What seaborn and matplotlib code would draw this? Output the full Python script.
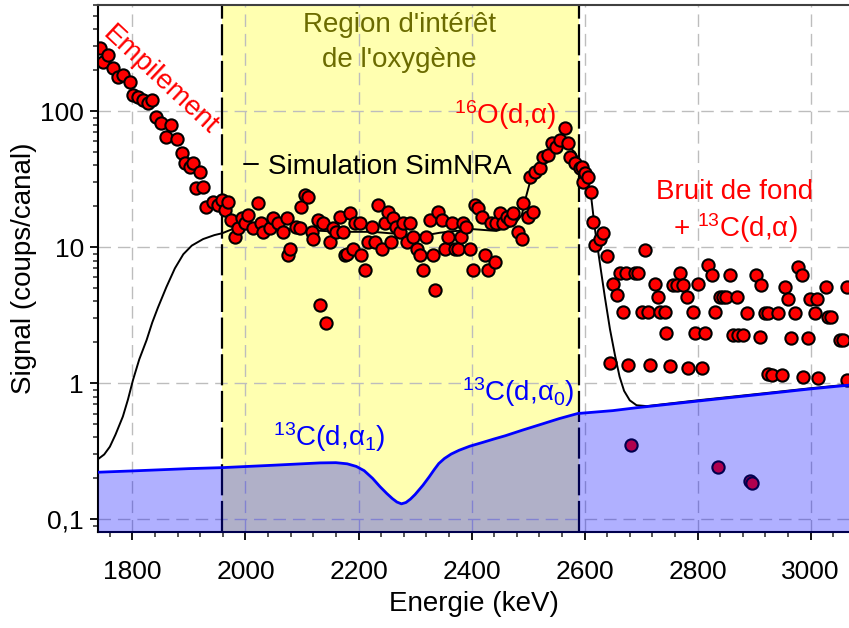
import matplotlib
matplotlib.use("Agg")
import matplotlib.pyplot as plt
from matplotlib.ticker import LogLocator, FuncFormatter, NullFormatter, MultipleLocator
import seaborn as sns

# --- measured spectrum (energy in keV, counts per channel) ---------------
pileup_energy = [1742, 1748, 1757, 1766, 1775, 1783, 1795, 1801, 1810, 1819,
                 1828, 1834, 1842, 1851, 1860, 1869, 1878, 1887, 1893, 1901,
                 1907, 1913, 1919, 1925, 1931, 1943, 1952, 1958, 1963, 1969,
                 1975]
pileup_counts = [290, 232, 259, 207, 180, 185, 165, 132, 128, 121,
                 115, 121, 91, 82, 65, 79, 63, 49, 41.5, 39.2,
                 41.5, 27.2, 36, 27.9, 19.9, 21.6, 20.5, 22.3, 18.8, 21.6,
                 15.9]

roi_energy = [1981, 1987, 1993, 1999, 2005, 2013, 2022, 2028, 2031, 2043,
              2049, 2058, 2067, 2073, 2075, 2078, 2090, 2096, 2099, 2105,
              2111, 2117, 2120, 2129, 2132, 2137, 2143, 2149, 2155, 2161,
              2167, 2173, 2176, 2179, 2185, 2191, 2193, 2202, 2205, 2211,
              2217, 2223, 2229, 2235, 2241, 2247, 2252, 2258, 2261, 2267,
              2273, 2279, 2285, 2291, 2297, 2303, 2309, 2314, 2320, 2326,
              2332, 2335, 2341, 2347, 2353, 2359, 2365, 2370, 2376, 2382,
              2385, 2391, 2397, 2403, 2406, 2412, 2418, 2424, 2429, 2435,
              2441, 2444, 2450, 2456, 2462, 2468, 2474, 2482, 2489, 2491,
              2500, 2509]
roi_counts = [12.0, 13.8, 16.3, 15.0, 17.3, 13.8, 21.1, 15.0, 13.0, 13.8,
              16.3, 15.0, 13.0, 16.3, 8.8, 9.8, 14.2, 13.8, 19.9, 24.2,
              23.6, 13.0, 11.6, 15.9, 3.77, 15.0, 2.76, 11.0, 13.8, 13.0,
              16.8, 13.0, 8.8, 9.0, 17.8, 9.8, 15.0, 15.0, 8.8, 6.8,
              11.0, 14.2, 11.0, 20.5, 9.8, 15.0, 18.3, 11.0, 16.3, 14.2,
              13.0, 15.0, 11.0, 15.0, 12.0, 9.8, 8.8, 6.8, 12.0, 15.9,
              8.8, 4.85, 18.3, 15.9, 9.8, 12.0, 15.0, 9.8, 9.8, 12.0,
              15.0, 14.2, 9.8, 6.8, 20.5, 19.4, 16.8, 8.8, 6.8, 15.0,
              7.8, 15.0, 17.8, 15.0, 16.8, 15.9, 17.8, 13.0, 11.6, 21.1,
              16.8, 18.3]

peak_energy = [2503, 2512, 2521, 2527, 2536, 2542, 2550, 2556, 2565, 2571,
               2574, 2583, 2592, 2595, 2598, 2601, 2606, 2612, 2615, 2618,
               2627, 2633, 2639]
peak_counts = [33, 36, 38.1, 46.4, 47.7, 58.2, 55, 61.5, 75, 58.2,
               46.4, 41.5, 38.1, 39.2, 30.4, 35, 33, 25.6, 15.4, 10.4,
               11.6, 12.7, 8.6]

background_energy = [2645, 2651, 2657, 2663, 2668, 2674, 2677, 2683, 2689, 2695,
                     2701, 2707, 2713, 2716, 2724, 2730, 2733, 2742, 2745, 2751,
                     2757, 2763, 2769, 2775, 2781, 2783, 2792, 2795, 2801, 2807,
                     2813, 2818, 2825, 2831, 2836, 2840, 2845, 2851, 2857, 2863,
                     2869, 2872, 2881, 2887, 2893, 2897, 2904, 2910, 2913, 2919,
                     2925, 2925, 2931, 2943, 2949, 2955, 2960, 2966, 2972, 2978,
                     2984, 2987, 2996, 2999, 3008, 3011, 3014, 3028, 3031, 3037,
                     3052, 3058, 3064, 3064]
background_counts = [1.40, 5.4, 4.47, 6.45, 3.36, 6.45, 1.36, 0.352, 6.45, 6.45,
                     3.36, 9.6, 3.36, 1.36, 5.4, 4.34, 3.36, 3.36, 2.33, 1.33,
                     5.3, 5.3, 6.45, 5.3, 4.34, 1.29, 3.36, 2.33, 5.4, 1.29,
                     2.33, 7.4, 6.3, 3.36, 0.241, 4.34, 4.34, 4.34, 6.3, 2.27,
                     4.34, 2.27, 2.27, 3.27, 0.191, 0.186, 6.3, 2.2, 5.3, 3.27,
                     3.27, 1.18, 1.15, 3.27, 1.15, 5.1, 4.2, 2.14, 3.27, 7.2,
                     6.3, 1.12, 2.14, 4.2, 3.27, 4.2, 1.09, 5.1, 3.09, 3.09,
                     2.08, 2.08, 5.1, 1.06]

# --- SimNRA simulation -----------------------------------------------------
sim_energy = [1739, 1750, 1760, 1770, 1783, 1792, 1801, 1812, 1825, 1835,
              1845, 1860, 1875, 1890, 1905, 1925, 1945, 1959, 1984, 2050,
              2137, 2167, 2225, 2285, 2320, 2344, 2403, 2444, 2468, 2480,
              2489, 2497, 2506, 2521, 2532, 2545, 2558, 2570, 2583, 2595,
              2603, 2612, 2618, 2627, 2636, 2645, 2654, 2662, 2670, 2680,
              2692, 2710, 2800, 2900, 3000, 3068]
sim_counts = [0.277, 0.30, 0.342, 0.42, 0.57, 0.76, 1.06, 1.5, 2.08, 2.8,
              3.6, 5.1, 7.0, 8.9, 10.3, 11.5, 12.3, 12.7, 14.0, 13.8,
              13.2, 13.0, 13.0, 12.4, 12.3, 12.8, 13.6, 13.2, 14.2, 15.5,
              17.3, 24, 33, 44, 51, 56, 57.5, 56, 50, 40,
              33, 23, 14, 7.7, 4.3, 2.5, 1.6, 1.12, 0.88, 0.75,
              0.69, 0.68, 0.75, 0.83, 0.92, 0.98]

# --- 13C(d,alpha) contribution ---------------------------------------------
c13_energy = [1739, 1800, 1900, 1959, 2050, 2132, 2160, 2180, 2196, 2210,
              2225, 2238, 2250, 2260, 2268, 2276, 2284, 2292, 2300, 2314,
              2325, 2334, 2342, 2352, 2364, 2378, 2397, 2420, 2440, 2460,
              2491, 2520, 2555, 2588, 2650, 2690, 2800, 2900, 3000, 3068]
c13_counts = [0.222, 0.227, 0.236, 0.240, 0.250, 0.260, 0.261, 0.256, 0.245, 0.228,
              0.200, 0.174, 0.155, 0.142, 0.134, 0.130, 0.133, 0.141, 0.152, 0.178,
              0.205, 0.232, 0.257, 0.280, 0.302, 0.322, 0.345, 0.368, 0.390, 0.412,
              0.454, 0.495, 0.550, 0.600, 0.630, 0.660, 0.740, 0.820, 0.910, 0.970]

roi_bounds = [1959, 2591]
x_range = [1739, 3068]
y_range = [0.0807, 605]

sns.set_theme(style="white")
plt.rcParams["font.family"] = ["Liberation Sans", "DejaVu Sans"]
plt.rcParams["mathtext.fontset"] = "custom"
plt.rcParams["mathtext.rm"] = "Liberation Sans"
plt.rcParams["mathtext.it"] = "Liberation Sans:italic"
plt.rcParams["mathtext.default"] = "regular"
plt.rcParams["text.color"] = "black"
plt.rcParams["axes.labelcolor"] = "black"

fig = plt.figure(figsize=(8.49, 6.28), dpi=100)
ax = fig.add_axes([98 / 849, 96 / 628, 751 / 849, 527 / 628])

# region of interest for oxygen
ax.axvspan(roi_bounds[0], roi_bounds[1], color="#FFFFB0", lw=0, zorder=0.2)
for xv in roi_bounds:
    ax.axvline(xv, color="black", lw=1.6, ls=(0, (14, 2.5)), zorder=1.8)

meas_energy = pileup_energy + roi_energy + peak_energy + background_energy
meas_counts = pileup_counts + roi_counts + peak_counts + background_counts

sns.lineplot(x=sim_energy, y=sim_counts, color="black", lw=1.4, sort=False,
             estimator=None, ax=ax, zorder=2, label="Simulation SimNRA")
sns.scatterplot(x=meas_energy, y=meas_counts, s=78, color="#FF0000",
                edgecolor="black", linewidth=1.5, ax=ax, zorder=2.5, legend=False)
ax.fill_between(c13_energy, c13_counts, 0.01, color="#0000FF", alpha=0.31,
                lw=0, zorder=3)
sns.lineplot(x=c13_energy, y=c13_counts, color="#0000FF", lw=2.0, sort=False,
             estimator=None, ax=ax, zorder=3.1)

ax.set_yscale("log")
ax.set_xlim(*x_range)
ax.set_ylim(*y_range)

ax.xaxis.set_major_locator(MultipleLocator(200))
ax.xaxis.set_minor_locator(MultipleLocator(40))
ax.yaxis.set_major_locator(LogLocator(base=10))
ax.yaxis.set_minor_locator(LogLocator(base=10, subs=range(2, 10)))
ax.yaxis.set_minor_formatter(NullFormatter())
ax.yaxis.set_major_formatter(
    FuncFormatter(lambda v, p: "0,1" if abs(v - 0.1) < 1e-9 else f"{v:g}"))

ax.set_axisbelow(True)
ax.grid(True, which="major", color="#BDBDBD", ls=(0, (9, 5)), lw=1.0)

ax.tick_params(axis="x", which="major", direction="out", length=6,
               width=1.3, labelsize=19, colors="black", bottom=True, pad=14)
ax.tick_params(axis="y", which="major", direction="out", length=6,
               width=1.3, labelsize=19, colors="black", left=True, pad=4)
ax.tick_params(axis="both", which="minor", direction="out", length=3.5,
               width=1.1, bottom=True, left=True)

for side in ("left", "bottom"):
    ax.spines[side].set_color("black")
    ax.spines[side].set_linewidth(1.5)
ax.spines["top"].set_color("#404040")
ax.spines["top"].set_linewidth(1.5)
ax.spines["right"].set_visible(False)

ax.set_xlabel("Energie (keV)", fontsize=20, labelpad=5)
ax.set_ylabel("Signal (coups/canal)", fontsize=20, labelpad=2)

ax.legend(loc="center left", bbox_to_anchor=(0.195, 0.693), frameon=False,
          fontsize=20, handlelength=0.5, handletextpad=0.35, borderpad=0,
          borderaxespad=0)

# annotations
ax.text(2273, 431, "Region d'intérêt", color="#6B6B00", fontsize=20,
        ha="center", va="center")
ax.text(2273, 238, "de l'oxygène", color="#6B6B00", fontsize=20,
        ha="center", va="center")
ax.text(1849, 170, "Empilement", color="#FF0000", fontsize=20, rotation=-43,
        ha="center", va="center", rotation_mode="anchor")
ax.text(2459, 94, r"$^{16}$O(d,α)", color="#FF0000", fontsize=20,
        ha="center", va="center")
ax.text(2866, 25.5, "Bruit de fond", color="#FF0000", fontsize=20,
        ha="center", va="center")
ax.text(2866, 13.9, r"+ $^{13}$C(d,α)", color="#FF0000", fontsize=20,
        ha="center", va="center")
ax.text(2482, 0.863, r"$^{13}$C(d,α$_0$)", color="#0000FF", fontsize=20,
        ha="center", va="center")
ax.text(2148, 0.403, r"$^{13}$C(d,α$_1$)", color="#0000FF", fontsize=20,
        ha="center", va="center")

fig.savefig("out.png", dpi=100)
